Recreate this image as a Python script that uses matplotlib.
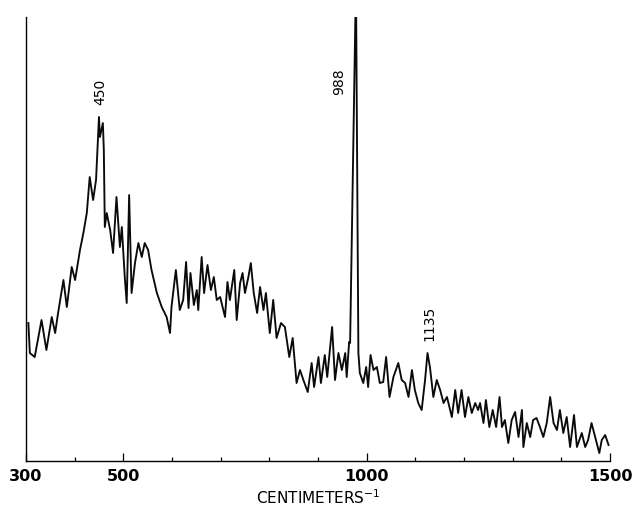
import numpy as np
import matplotlib.pyplot as plt

# Raman spectrum (cm^-1, relative intensity)
wavenumber = [
    305, 308, 318, 332, 342, 353, 360, 366, 377, 384, 394, 401, 411, 418,
    425, 431, 438, 444, 450, 452, 458, 460, 462, 466, 473, 479, 486, 493,
    497, 503, 507, 512, 517, 524, 531, 538, 544, 551, 558, 569, 579, 589,
    596, 599, 608, 616, 623, 629, 634, 638, 645, 651, 654, 661, 666, 673,
    680, 686, 692, 699, 704, 709, 714, 719, 728, 733, 740, 745, 750, 757,
    762, 768, 775, 781, 788, 793, 801, 808, 815, 824, 832, 841, 848, 856,
    863, 870, 879, 887, 892, 901, 906, 914, 919, 929, 935, 942, 949, 956,
    959, 964, 966, 978, 983, 986, 993, 999, 1003, 1008, 1014, 1021, 1027,
    1034, 1040, 1047, 1055, 1065, 1072, 1079, 1086, 1093, 1099, 1106, 1113,
    1120, 1125, 1130, 1137, 1144, 1151, 1158, 1165, 1175, 1182, 1188, 1195,
    1202, 1209, 1216, 1223, 1229, 1233, 1240, 1245, 1252, 1259, 1266, 1273,
    1278, 1284, 1291, 1298, 1305, 1312, 1319, 1322, 1329, 1336, 1342, 1349,
    1356, 1363, 1370, 1377, 1384, 1391, 1397, 1404, 1411, 1418, 1426, 1432,
    1442, 1449, 1455, 1462, 1471, 1478, 1483, 1490, 1497,
]
intensity = [
    138, 108, 104, 141, 111, 144, 128, 148, 181, 154, 194, 181, 211, 228,
    248, 284, 261, 281, 344, 324, 338, 311, 234, 248, 231, 208, 264, 214,
    234, 184, 158, 266, 168, 198, 218, 204, 218, 211, 191, 168, 154, 144,
    128, 154, 191, 151, 161, 199, 153, 188, 156, 171, 151, 204, 168, 196,
    171, 184, 161, 164, 154, 144, 179, 161, 191, 141, 178, 188, 168, 184,
    198, 168, 148, 174, 151, 168, 128, 161, 123, 138, 134, 104, 123, 78,
    91, 81, 69, 98, 74, 104, 78, 106, 84, 134, 81, 108, 91, 108,
    84, 119, 118, 480, 108, 88, 78, 94, 74, 106, 91, 94, 78,
    79, 104, 64, 84, 98, 81, 78, 64, 91, 71, 58, 51,
    81, 108, 94, 64, 81, 71, 58, 64, 44, 71, 48, 71,
    44, 64, 48, 58, 51, 58, 38, 61, 34, 51, 34, 64,
    34, 41, 18, 41, 49, 24, 51, 14, 38, 24, 41, 43,
    34, 24, 38, 64, 38, 31, 51, 28, 44, 14, 46, 14,
    28, 14, 21, 38, 21, 8, 21, 26, 16,
]

tick_positions = [300, 400, 500, 600, 700, 800, 900, 1000, 1100, 1200, 1300, 1400, 1500]
major_ticks = [300, 500, 1000, 1500]
peak_labels = [('450', 452, 369), ('988', 943, 379), ('1135', 1130, 138)]

fig = plt.figure(figsize=(6.33, 5.08), dpi=100, facecolor='white')
ax = fig.add_axes([0.041, 0.0925, 0.9227, 0.874])

ax.plot(wavenumber, intensity, color='#0a0a0a', linewidth=1.35)

ax.set_xlim(300, 1500)
ax.set_ylim(0, 444)

for side in ('top', 'right'):
    ax.spines[side].set_visible(False)
ax.spines['left'].set_linewidth(1.0)
ax.spines['bottom'].set_linewidth(1.0)

ax.set_xticks(tick_positions, minor=True)
ax.set_xticks(major_ticks)
ax.set_xticklabels([str(t) for t in major_ticks], fontsize=11.5, fontweight='bold')
ax.tick_params(axis='x', which='major', direction='in', length=6, width=0.9, pad=6)
ax.tick_params(axis='x', which='minor', direction='in', length=3, width=0.9)
ax.set_yticks([])

ax.set_xlabel('CENTIMETERS$^{-1}$', fontsize=11, labelpad=3)

for text, x, y in peak_labels:
    ax.text(x, y, text, rotation=90, ha='center', va='center', fontsize=10)

fig.savefig('out.png', dpi=100, facecolor='white')
